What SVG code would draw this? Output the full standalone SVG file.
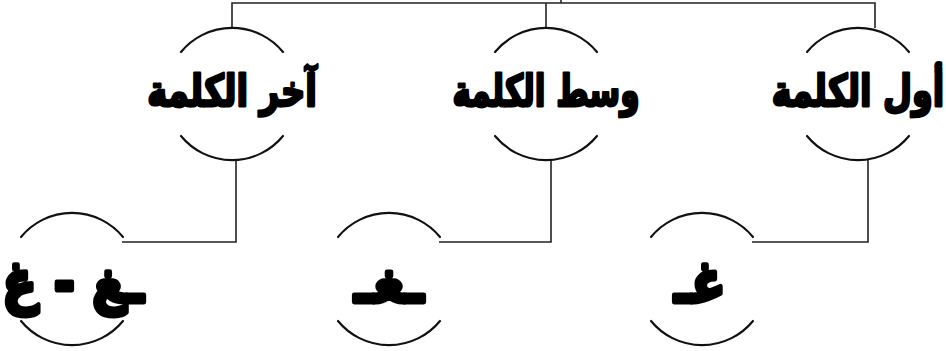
<svg xmlns="http://www.w3.org/2000/svg" width="946" height="351" viewBox="0 0 946 351">
<style>
.arc{fill:none;stroke:#111;stroke-width:2.2;stroke-linecap:round}
.con{fill:none;stroke:#222;stroke-width:1.6}
.lbl{font-family:"DejaVu Sans",sans-serif;font-weight:bold;font-size:38px;fill:#000;stroke:#000;stroke-width:2.4;stroke-linejoin:round;text-anchor:middle;direction:rtl}
.gl{font-family:"DejaVu Sans",sans-serif;font-weight:bold;font-size:50px;fill:#000;stroke:#000;stroke-width:4.2;stroke-linejoin:round;text-anchor:middle;direction:rtl}
</style>
<defs>
<g id="bubble">
<path class="arc" d="M-51,-42 A66,66 0 0 1 51,-42"/>
<path class="arc" d="M-51,42 A66,66 0 0 0 51,42"/>
</g>
</defs>
<g id="connectors">
<path class="con" d="M232,28 V3 H875 V28"/>
<path class="con" d="M546,3 V28"/>
<path class="con" d="M561,0 V3"/>
<path class="con" d="M236,159 V242 H122"/>
<path class="con" d="M551,159 V242 H439"/>
<path class="con" d="M868,159 V242 H752"/>
</g>
<g id="node-end">
<use href="#bubble" x="232" y="94"/>
<text class="lbl" transform="translate(232,106) scale(0.89,1.15)">آخر الكلمة</text>
</g>
<g id="node-middle">
<use href="#bubble" x="546" y="94"/>
<text class="lbl" transform="translate(546,106) scale(0.82,1.15)">وسط الكلمة</text>
</g>
<g id="node-start">
<use href="#bubble" x="858" y="94"/>
<text class="lbl" transform="translate(858,106) scale(0.88,1.15)">أول الكلمة</text>
</g>
<g id="form-end">
<use href="#bubble" x="72" y="279"/>
<text class="gl" transform="translate(73,302) scale(1,1.15)">ـغ - غ</text>
</g>
<g id="form-middle">
<use href="#bubble" x="389" y="279"/>
<text class="gl" transform="translate(389,302) scale(1.1,1.15)">ـغـ</text>
</g>
<g id="form-start">
<use href="#bubble" x="702" y="279"/>
<text class="gl" transform="translate(700,302) scale(1,1.15)">غـ</text>
</g>
</svg>
